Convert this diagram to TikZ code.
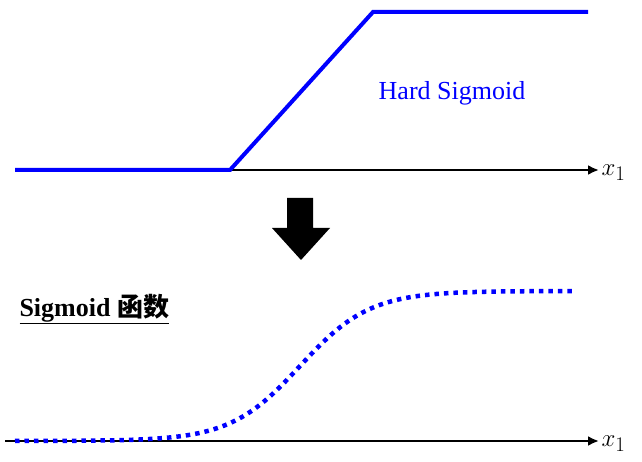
\documentclass[tikz,border=0pt]{standalone}
\usepackage{fontspec}
\setmainfont{Liberation Serif}
\newfontfamily\cjk{Noto Sans CJK SC}
\usetikzlibrary{arrows.meta}
\definecolor{sigblue}{RGB}{0,0,255}
\tikzset{
  axis/.style={line width=2.6pt,-{Latex[length=11pt,width=10pt]}},
  hardline/.style={sigblue,line width=4pt},
  softline/.style={sigblue,line width=4.5pt,dash pattern=on 4.5pt off 5pt},
}

\begin{document}
\begin{tikzpicture}[x=1pt,y=-1pt]
  \useasboundingbox (0,0) rectangle (642,462);
  % hard sigmoid
  \coordinate (a0) at (15,170);
  \coordinate (a1) at (599,170);
  \draw[axis] (a0) -- (a1);
  \node[right] (xa) at (598,173) {\fontsize{31}{31}\selectfont$x_1$};
  \coordinate (h1) at (230,170);
  \coordinate (h2) at (373,12);
  \coordinate (h3) at (588,12);
  \draw[hardline] (a0) -- (h1) -- (h2) -- (h3);
  \node[sigblue] (hard) at (452,93) {\fontsize{26}{26}\selectfont Hard Sigmoid};
  % big arrow
  \fill (287,198) -- (313,198) -- (313,228) -- (330,228) -- (301,260)
        -- (272,228) -- (287,228) -- cycle;
  % sigmoid
  \coordinate (b0) at (5,441);
  \coordinate (b1) at (599,441);
  \draw[axis] (b0) -- (b1);
  \node[right] (xb) at (598,444) {\fontsize{31}{31}\selectfont$x_1$};
  \node[right] (sig) at (16,309) {\fontsize{26}{26}\selectfont\bfseries
    \underline{Sigmoid {\cjk 函数}}};
  \draw[softline] plot[domain=15:575,samples=80,smooth]
    (\x,{441-150/(1+exp(-(\x-300)/35))});
\end{tikzpicture}
\end{document}
